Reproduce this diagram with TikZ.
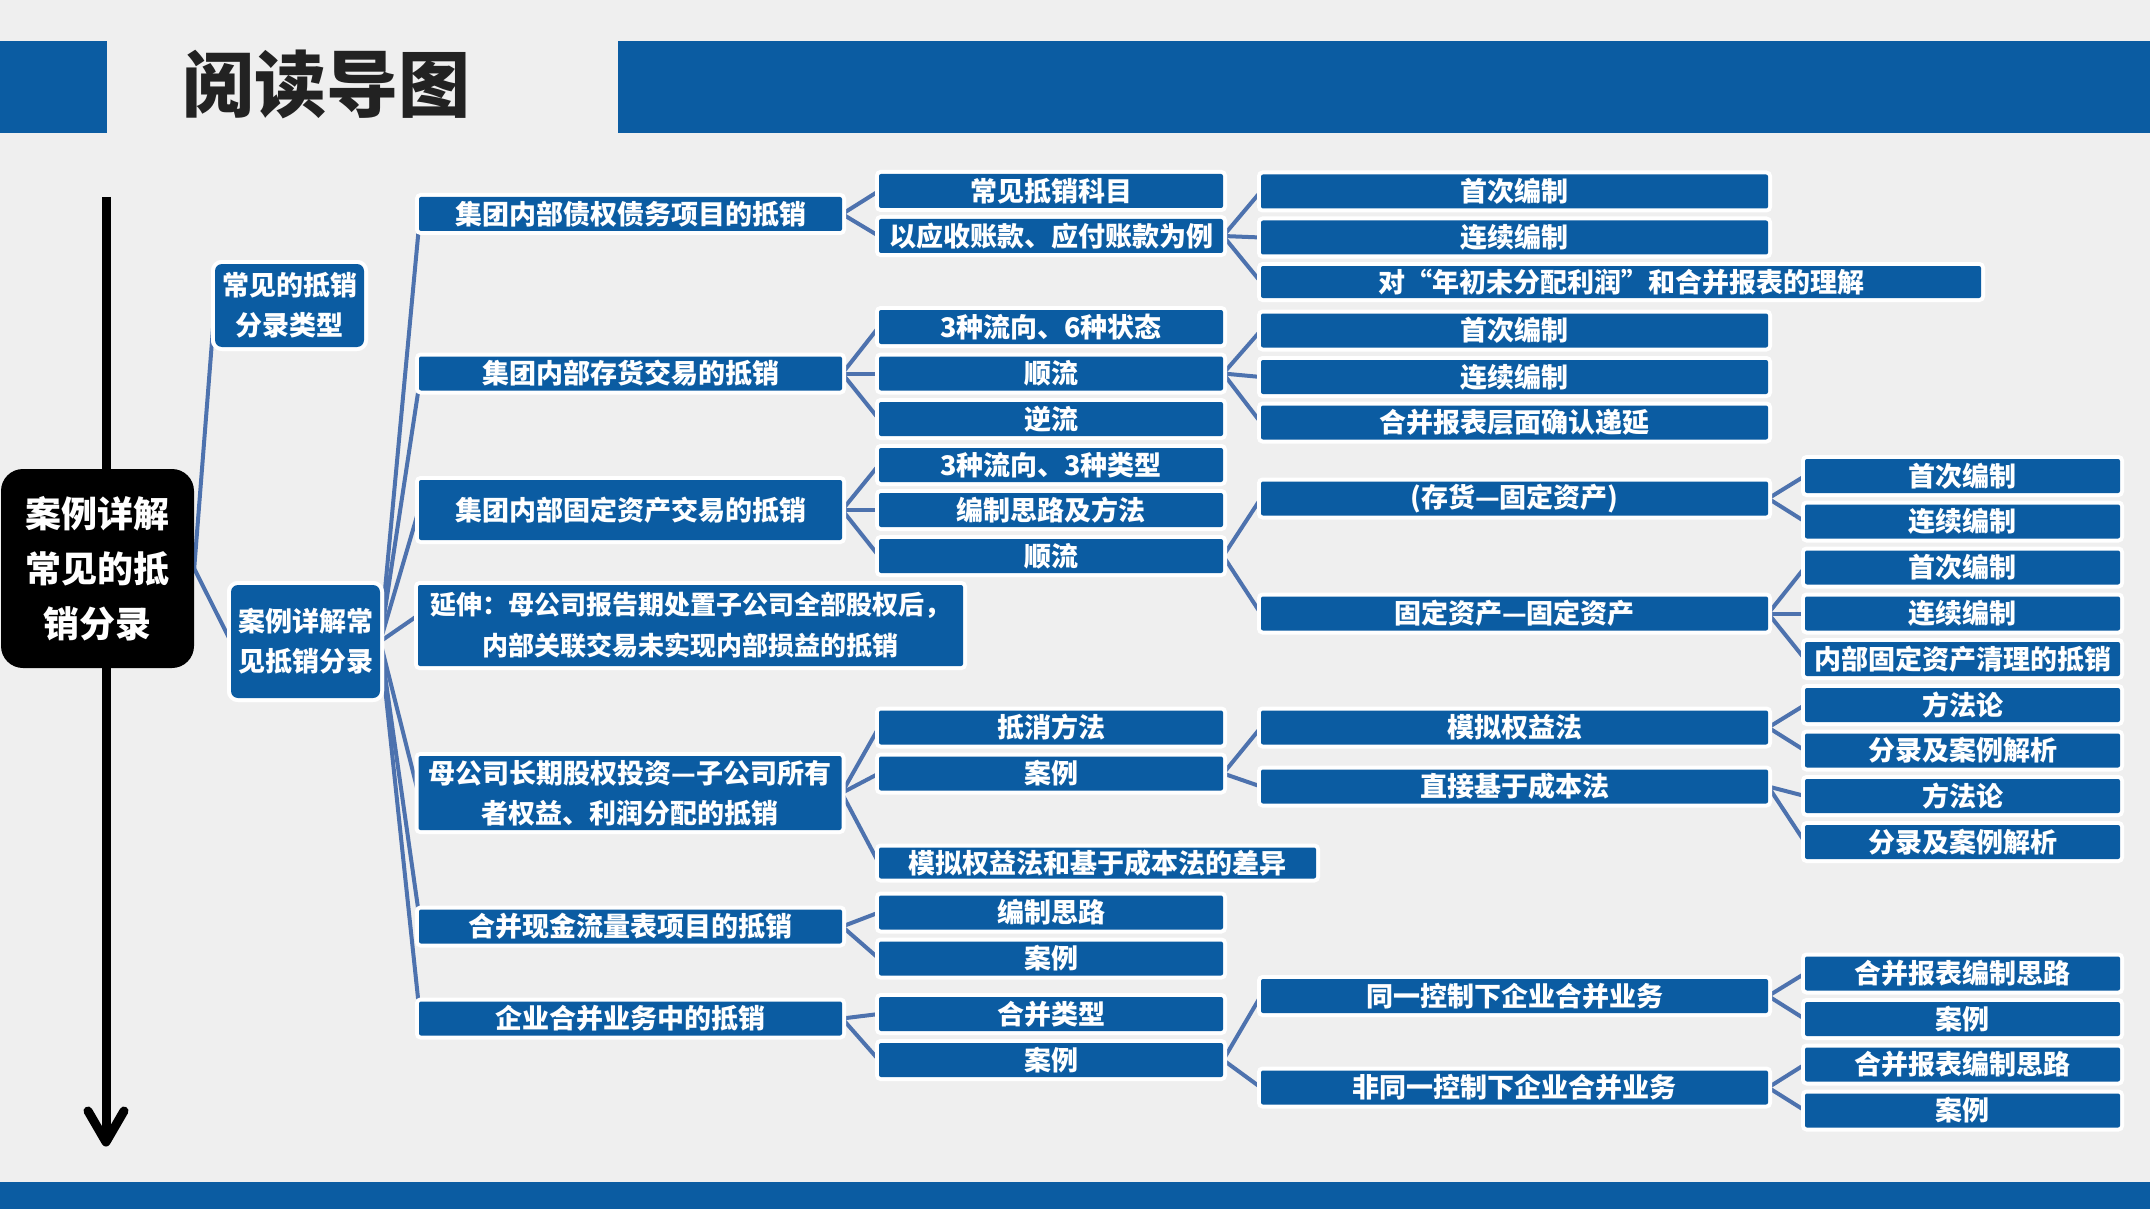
\documentclass[tikz,border=0pt]{standalone}
\usepackage{fontspec}
\newfontfamily\cjk{Noto Sans CJK SC}
\usetikzlibrary{backgrounds}
\definecolor{bgc}{HTML}{EFEFEF}
\definecolor{boxblue}{HTML}{0B5CA2}
\definecolor{linkblue}{HTML}{4D72AE}
\definecolor{titlegray}{HTML}{222222}
\tikzset{
  bx/.style={fill=boxblue, text=white, inner sep=0pt, rounded corners=2pt,
    preaction={draw=white, line width=8pt, rounded corners=3pt},
    font=\cjk\bfseries\fontsize{27}{40}\selectfont, align=center},
  lvtwo/.style={bx, minimum width=423pt, minimum height=34pt},
  lvthree/.style={bx, minimum width=344pt, minimum height=34pt},
  lvfour/.style={bx, minimum width=507pt, minimum height=34pt},
  lvfive/.style={bx, minimum width=315pt, minimum height=34pt},
  lvone/.style={bx, rounded corners=7pt, preaction={draw=white, line width=8pt, rounded corners=8pt}, minimum width=149pt},
  link/.style={draw=linkblue, line width=4pt, line cap=round},
}
\begin{document}
\begin{tikzpicture}[x=1pt,y=-1pt]
% ---------- nodes ----------
\node[fill=black, text=white, rounded corners=22pt, minimum width=193pt, minimum height=199pt, inner sep=0pt,
      font=\cjk\bfseries\fontsize{36}{55}\selectfont, align=center] (root) at (97.5,568.5) {案例详解\\常见的抵\\销分录};
\node[lvone, minimum height=83pt] (Lone) at (289.5,305.5) {常见的抵销\\分录类型};
\node[lvone, minimum height=113pt] (Ltwo) at (305.5,641.5) {案例详解常\\见抵销分录};

% level 2
\node[lvtwo] (A) at (630.5,214) {集团内部债权债务项目的抵销};
\node[lvtwo] (B) at (630.5,373.5) {集团内部存货交易的抵销};
\node[lvtwo, minimum height=60pt] (C) at (630.5,510) {集团内部固定资产交易的抵销};
\node[bx, minimum width=545pt, minimum height=81pt, font=\cjk\bfseries\fontsize{26}{41}\selectfont] (D) at (690.5,625.5) {延伸：母公司报告期处置子公司全部股权后，\\内部关联交易未实现内部损益的抵销};
\node[lvtwo, minimum height=74pt] (E) at (630,793) {母公司长期股权投资—子公司所有\\者权益、利润分配的抵销};
\node[lvtwo] (F) at (630.5,926.5) {合并现金流量表项目的抵销};
\node[lvtwo] (G) at (630.5,1018.5) {企业合并业务中的抵销};

% level 3
\node[lvthree] (Aa) at (1051,191) {常见抵销科目};
\node[lvthree] (Ab) at (1051,236) {以应收账款、应付账款为例};
\node[lvthree] (Ba) at (1051,327) {3种流向、6种状态};
\node[lvthree] (Bb) at (1051,373.5) {顺流};
\node[lvthree] (Bc) at (1051,419) {逆流};
\node[lvthree] (Ca) at (1051,465) {3种流向、3种类型};
\node[lvthree] (Cb) at (1051,510) {编制思路及方法};
\node[lvthree] (Cc) at (1051,556) {顺流};
\node[lvthree] (Ea) at (1051,727.5) {抵消方法};
\node[lvthree] (Eb) at (1051,773.5) {案例};
\node[bx, minimum width=437pt, minimum height=31pt] (Ec) at (1097.5,863) {模拟权益法和基于成本法的差异};
\node[lvthree] (Fa) at (1051,912.5) {编制思路};
\node[lvthree] (Fb) at (1051,958.5) {案例};
\node[lvthree] (Ga) at (1051,1014) {合并类型};
\node[lvthree] (Gb) at (1051,1060) {案例};

% level 4
\node[lvfour] (Aba) at (1514.5,191.5) {首次编制};
\node[lvfour] (Abb) at (1514.5,237.5) {连续编制};
\node[bx, minimum width=720pt, minimum height=32pt] (Abc) at (1621,282) {对“年初未分配利润”和合并报表的理解};
\node[lvfour] (Bba) at (1514.5,330.5) {首次编制};
\node[lvfour] (Bbb) at (1514.5,377) {连续编制};
\node[lvfour] (Bbc) at (1514.5,422.5) {合并报表层面确认递延};
\node[lvfour] (Cca) at (1514.5,498.5) {(存货—固定资产)};
\node[lvfour] (Ccb) at (1514.5,613.5) {固定资产—固定资产};
\node[lvfour] (Eba) at (1514.5,727.5) {模拟权益法};
\node[lvfour] (Ebb) at (1514.5,786.5) {直接基于成本法};
\node[lvfour] (Gba) at (1514.5,996) {同一控制下企业合并业务};
\node[lvfour] (Gbb) at (1514.5,1087.5) {非同一控制下企业合并业务};

% level 5
\node[lvfive] (Ccaa) at (1962.5,476) {首次编制};
\node[lvfive] (Ccab) at (1962.5,521.5) {连续编制};
\node[lvfive] (Ccba) at (1962.5,567.5) {首次编制};
\node[lvfive] (Ccbb) at (1962.5,613.5) {连续编制};
\node[lvfive] (Ccbc) at (1962.5,659) {内部固定资产清理的抵销};
\node[lvfive] (Ebaa) at (1962.5,705) {方法论};
\node[lvfive] (Ebab) at (1962.5,750.5) {分录及案例解析};
\node[lvfive] (Ebba) at (1962.5,796) {方法论};
\node[lvfive] (Ebbb) at (1962.5,842) {分录及案例解析};
\node[lvfive] (Gbaa) at (1962.5,973.5) {合并报表编制思路};
\node[lvfive] (Gbab) at (1962.5,1019) {案例};
\node[lvfive] (Gbba) at (1962.5,1064.5) {合并报表编制思路};
\node[lvfive] (Gbbb) at (1962.5,1110.5) {案例};

% title
\node[font=\cjk\bfseries\fontsize{72}{80}\selectfont, text=titlegray, inner sep=0pt] (title) at (326,84) {阅读导图};

% ---------- background layer ----------
\begin{pgfonlayer}{background}
\fill[bgc] (0,0) rectangle (2150,1209);
\useasboundingbox (0,0) rectangle (2150,1209);
\fill[boxblue] (0,41) rectangle (107,133);
\fill[boxblue] (618,41) rectangle (2150,133);
\fill[boxblue] (0,1182) rectangle (2150,1209);
% timeline arrow
\draw[line width=9pt] (106,197) -- (106,1138);
\draw[line width=9pt, line cap=round, line join=round] (88,1111) -- (106,1142) -- (124,1111);
% connectors
\draw[link] (root.east) -- (Lone.west);
\draw[link] (root.east) -- (Ltwo.west);
\draw[link] (Ltwo.east) -- ([yshift=-14pt]A.west);
\draw[link] (Ltwo.east) -- ([yshift=-14pt]B.west);
\draw[link] (Ltwo.east) -- (C.west);
\draw[link] (Ltwo.east) -- ([yshift=10pt]D.west);
\draw[link] (Ltwo.east) -- (E.west);
\draw[link] (Ltwo.east) -- ([yshift=13pt]F.west);
\draw[link] (Ltwo.east) -- ([yshift=13pt]G.west);
\foreach \p/\c in {A/Aa,A/Ab,B/Ba,B/Bb,B/Bc,C/Ca,C/Cb,C/Cc,E/Ea,E/Eb,E/Ec,F/Fa,F/Fb,G/Ga,G/Gb,
  Ab/Aba,Ab/Abb,Ab/Abc,Bb/Bba,Bb/Bbb,Bb/Bbc,Cc/Cca,Cc/Ccb,Eb/Eba,Eb/Ebb,Gb/Gba,Gb/Gbb,
  Cca/Ccaa,Cca/Ccab,Ccb/Ccba,Ccb/Ccbb,Ccb/Ccbc,Eba/Ebaa,Eba/Ebab,Ebb/Ebba,Ebb/Ebbb,
  Gba/Gbaa,Gba/Gbab,Gbb/Gbba,Gbb/Gbbb}
  \draw[link] (\p.east) -- (\c.west);
\end{pgfonlayer}
\end{tikzpicture}
\end{document}
